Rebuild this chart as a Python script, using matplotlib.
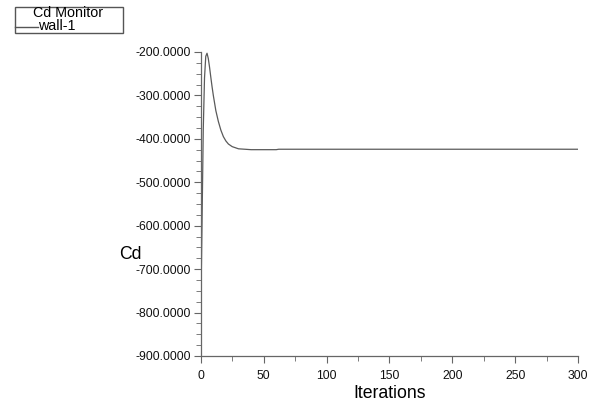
import numpy as np
import matplotlib
matplotlib.use("Agg")
import matplotlib.pyplot as plt
from matplotlib.patches import Rectangle
from matplotlib.lines import Line2D
from matplotlib.ticker import MultipleLocator, FormatStrFormatter

plt.rcParams['font.family'] = ['Liberation Sans', 'DejaVu Sans']

# Cd monitor history
iterations = [0, 1, 2, 3, 4, 5, 6, 7, 8, 9, 10, 12, 14, 16, 18, 20, 22, 25, 30, 40, 60, 62, 300]
cd = [-810, -600, -380, -260, -210, -203, -215, -235, -258, -280, -300, -335, -360,
      -380, -395, -405, -412, -418, -423, -425, -425, -424, -424]
series_name = "wall-1"
title = "Cd Monitor"

fig = plt.figure(figsize=(6.01, 4.09), dpi=100)
ax = fig.add_axes([0.334, 0.1296, 0.628, 0.7434])

ax.plot(iterations, cd, color='#5a5a5a', linewidth=0.9)

ax.set_xlim(0, 300)
ax.set_ylim(-900, -200)
ax.xaxis.set_major_locator(MultipleLocator(50))
ax.xaxis.set_minor_locator(MultipleLocator(25))
ax.yaxis.set_major_locator(MultipleLocator(100))
ax.yaxis.set_minor_locator(MultipleLocator(25))
ax.yaxis.set_major_formatter(FormatStrFormatter('%.4f'))

for s in ['top', 'right']:
    ax.spines[s].set_visible(False)
for s in ['left', 'bottom']:
    ax.spines[s].set_color('#666666')
    ax.spines[s].set_linewidth(0.9)

ax.tick_params(which='major', direction='out', length=5, color='#666666',
               labelsize=8.8, labelcolor='#111111')
ax.tick_params(which='minor', direction='out', length=3.5, color='#666666')
ax.tick_params(axis='x', pad=5)
ax.tick_params(axis='y', pad=2)

ax.set_xlabel("Iterations", fontsize=12.7, labelpad=2)
ax.set_ylabel("Cd", fontsize=12.7, rotation=0, ha='center', va='center')
ax.yaxis.set_label_coords(-0.186, 0.335)

# legend box drawn like the monitor window
W, H = 601, 409
fig.patches.append(Rectangle((15 / W, 1 - 33 / H), 108 / W, 26 / H,
                             transform=fig.transFigure, fill=False,
                             edgecolor='#555555', linewidth=1.0))
fig.lines.append(Line2D([15 / W, 38 / W], [1 - 27 / H, 1 - 27 / H],
                        transform=fig.transFigure, color='#555555', linewidth=1.0))
fig.text(68 / W, 1 - 13 / H, title, fontsize=10.3, ha='center', va='center')
fig.text(38 / W, 1 - 25.5 / H, series_name, fontsize=10.3, ha='left', va='center')

fig.savefig("out.png", dpi=100)
